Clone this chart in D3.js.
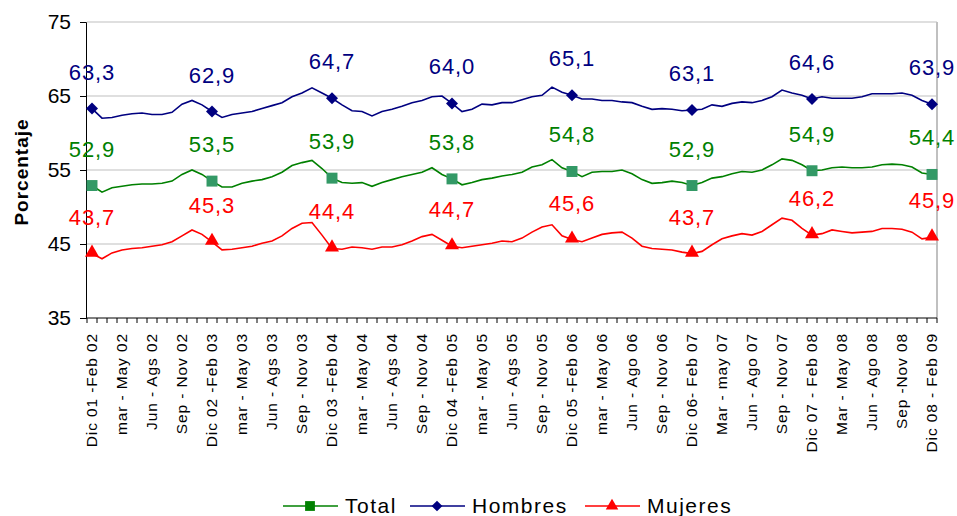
<!DOCTYPE html>
<html>
<head>
<meta charset="utf-8">
<script src="https://cdn.jsdelivr.net/npm/d3@7"></script>
<style>
  body { margin: 0; background: #fff; }
  svg { display: block; font-family: "Liberation Sans", Arial, sans-serif; }
</style>
</head>
<body>
<script>
var tickLabels = ["Dic 01 -Feb 02", "mar - May 02", "Jun - Ags 02", "Sep - Nov 02",
  "Dic 02 -Feb 03", "mar - May 03", "Jun - Ags 03", "Sep - Nov 03",
  "Dic 03 -Feb 04", "mar - May 04", "Jun - Ags 04", "Sep - Nov 04",
  "Dic 04 -Feb 05", "mar - May 05", "Jun - Ags 05", "Sep - Nov 05",
  "Dic 05 -Feb 06", "mar - May 06", "Jun - Ago 06", "Sep - Nov 06",
  "Dic 06- Feb 07", "Mar - may 07", "Jun - Ago 07", "Sep - Nov 07",
  "Dic 07 - Feb 08", "Mar - May 08", "Jun - Ago 08", "Sep -Nov 08",
  "Dic 08 - Feb 09"]

// rolling quarters, one point per month
var total = [52.9, 52.0, 52.6, 52.8, 53.0, 53.1, 53.1, 53.2, 53.5, 54.4, 55.0, 54.4,
  53.5, 52.7, 52.7, 53.2, 53.5, 53.7, 54.1, 54.7, 55.6, 56.0, 56.3, 55.2,
  53.9, 53.3, 53.2, 53.3, 52.8, 53.3, 53.7, 54.1, 54.4, 54.7, 55.3, 54.4,
  53.8, 53.0, 53.3, 53.7, 53.9, 54.2, 54.4, 54.7, 55.4, 55.7, 56.4, 55.3,
  54.8, 54.1, 54.7, 54.8, 54.8, 55.0, 54.5, 53.7, 53.2, 53.3, 53.5, 53.3,
  52.9, 53.3, 53.9, 54.1, 54.5, 54.8, 54.7, 55.0, 55.7, 56.5, 56.3, 55.7,
  54.9, 55.0, 55.3, 55.4, 55.3, 55.3, 55.4, 55.7, 55.8, 55.7, 55.4, 54.6,
  54.4]
var hombres = [63.3, 62.0, 62.1, 62.4, 62.6, 62.7, 62.5, 62.5, 62.8, 63.9, 64.4, 63.8,
  62.9, 62.1, 62.5, 62.7, 62.9, 63.3, 63.7, 64.1, 64.9, 65.4, 66.1, 65.4,
  64.7, 63.8, 63.0, 62.9, 62.3, 62.9, 63.2, 63.6, 64.1, 64.4, 64.9, 65.0,
  64.0, 62.9, 63.2, 63.9, 63.8, 64.1, 64.1, 64.5, 64.9, 65.1, 66.2, 65.5,
  65.1, 64.6, 64.6, 64.4, 64.4, 64.2, 64.1, 63.6, 63.2, 63.3, 63.2, 63.0,
  63.1, 63.2, 63.8, 63.6, 64.0, 64.2, 64.1, 64.4, 64.9, 65.8, 65.4, 65.1,
  64.6, 64.9, 64.7, 64.7, 64.7, 64.9, 65.3, 65.3, 65.3, 65.4, 65.1, 64.4,
  63.9]
var mujeres = [43.7, 43.0, 43.8, 44.2, 44.4, 44.5, 44.7, 44.9, 45.3, 46.1, 46.9, 46.3,
  45.3, 44.2, 44.3, 44.5, 44.7, 45.1, 45.4, 46.1, 47.1, 47.8, 47.9, 46.2,
  44.4, 44.3, 44.6, 44.5, 44.3, 44.6, 44.6, 44.9, 45.4, 46.0, 46.3, 45.5,
  44.7, 44.5, 44.7, 44.9, 45.1, 45.4, 45.3, 45.8, 46.6, 47.3, 47.6, 46.1,
  45.6, 45.3, 45.8, 46.3, 46.5, 46.6, 45.8, 44.7, 44.4, 44.3, 44.2, 43.9,
  43.7, 44.0, 44.9, 45.7, 46.1, 46.4, 46.2, 46.7, 47.6, 48.5, 48.2, 47.1,
  46.2, 46.4, 46.9, 46.7, 46.5, 46.6, 46.7, 47.1, 47.1, 47.0, 46.6, 45.7,
  45.9]
var yTicks = [35, 45, 55, 65, 75]

var series = [
  {name: "Total", values: total, line: "#008000", mark: "#339966", symbol: d3.symbolSquare, size: 120, rot: 0},
  {name: "Hombres", values: hombres, line: "#000080", mark: "#000080", symbol: d3.symbolSquare, size: 72, rot: 45},
  {name: "Mujeres", values: mujeres, line: "#ff0000", mark: "#ff0000", symbol: d3.symbolTriangle, size: 85, rot: 0}
]

var width = 957, height = 516
var margin = {top: 22, right: 20, bottom: 198, left: 87}

var svg = d3.select("body").append("svg")
    .attr("width", width)
    .attr("height", height)

var n = total.length
var x = d3.scalePoint()
    .domain(d3.range(n))
    .range([margin.left, width - margin.right])
    .padding(0.5)

var y = d3.scaleLinear()
    .domain([35, 75])
    .range([height - margin.bottom, margin.top])

var x0 = margin.left, x1 = width - margin.right
var step = x.step()

// grid
svg.append("g").selectAll("line")
    .data(yTicks.slice(1))
    .enter().append("line")
    .attr("x1", x0).attr("x2", x1)
    .attr("y1", function(d) { return y(d) }).attr("y2", function(d) { return y(d) })
    .attr("stroke", "#c0c0c0").attr("stroke-width", 1.2)

// right border of plot area
svg.append("line")
    .attr("x1", x1).attr("x2", x1)
    .attr("y1", y(75)).attr("y2", y(35))
    .attr("stroke", "#c0c0c0").attr("stroke-width", 2)

// y axis
var yAxis = svg.append("g")
    .attr("transform", "translate(" + (x0 - 1) + ",0)")
    .call(d3.axisLeft(y).tickValues(yTicks).tickSize(6).tickPadding(9))
yAxis.select(".domain").attr("stroke", "#000")
yAxis.selectAll(".tick line").attr("stroke", "#000")
yAxis.selectAll("text")
    .attr("font-size", 21)
    .attr("font-family", "Liberation Sans, Arial, sans-serif")
    .attr("fill", "#000")

// x axis: ticks between categories, labels every third month
var xAxisG = svg.append("g")
xAxisG.append("line")
    .attr("x1", x0 - 1).attr("x2", x1)
    .attr("y1", y(35)).attr("y2", y(35))
    .attr("stroke", "#000")
xAxisG.selectAll(".tk")
    .data(d3.range(n + 1))
    .enter().append("line")
    .attr("class", "tk")
    .attr("x1", function(i) { return x(0) - step / 2 + i * step })
    .attr("x2", function(i) { return x(0) - step / 2 + i * step })
    .attr("y1", y(35)).attr("y2", y(35) + 5)
    .attr("stroke", "#000")
xAxisG.selectAll(".lbl")
    .data(tickLabels)
    .enter().append("text")
    .attr("class", "lbl")
    .attr("transform", function(d, i) { return "translate(" + x(i * 3) + "," + (y(35) + 15) + ") rotate(-90)" })
    .attr("dy", "0.35em")
    .attr("text-anchor", "end")
    .attr("font-size", 15.5)
    .attr("letter-spacing", 0.9)
    .attr("fill", "#000")
    .text(function(d) { return d })

// y label
svg.append("text")
    .attr("transform", "translate(21," + (y(55) + 2) + ") rotate(-90)")
    .attr("text-anchor", "middle")
    .attr("font-size", 19)
    .attr("font-weight", "bold")
    .attr("letter-spacing", 1)
    .attr("dy", "0.35em")
    .text("Porcentaje")

var line = d3.line()
    .x(function(d, i) { return x(i) })
    .y(function(d) { return y(d) })

var fmt = function(v) { return d3.format(".1f")(v).replace(".", ",") }
var marked = d3.range(0, n, 12)

series.forEach(function(s) {
  svg.append("path")
      .datum(s.values)
      .attr("fill", "none")
      .attr("stroke", s.line)
      .attr("stroke-width", 1.6)
      .attr("d", line)

  var sym = d3.symbol().type(s.symbol).size(s.size)
  svg.append("g").selectAll("path")
      .data(marked)
      .enter().append("path")
      .attr("transform", function(i) {
        var dy = s.symbol === d3.symbolTriangle ? -1 : 0
        return "translate(" + x(i) + "," + (y(s.values[i]) + dy) + ") rotate(" + s.rot + ")"
      })
      .attr("d", sym)
      .attr("fill", s.mark)

  svg.append("g").selectAll("text")
      .data(marked)
      .enter().append("text")
      .attr("x", function(i) { return x(i) })
      .attr("y", function(i) { return y(s.values[i]) - 29 })
      .attr("text-anchor", "middle")
      .attr("font-size", 22)
      .attr("letter-spacing", 0.9)
      .attr("fill", s.line)
      .text(function(i) { return fmt(s.values[i]) })
})

// legend
var legendX = [283, 410, 585]
var leg = svg.append("g").selectAll("g")
    .data(series)
    .enter().append("g")
    .attr("transform", function(d, i) { return "translate(" + legendX[i] + ",506)" })
leg.append("line")
    .attr("x1", 0).attr("x2", 55)
    .attr("stroke", function(d) { return d.line })
    .attr("stroke-width", 1.6)
leg.append("path")
    .attr("transform", function(d) { return "translate(27,0) rotate(" + d.rot + ")" })
    .attr("d", function(d) { return d3.symbol().type(d.symbol).size(d.size * 0.8)() })
    .attr("fill", function(d) { return d.line })
leg.append("text")
    .attr("x", 62)
    .attr("dy", "0.35em")
    .attr("font-size", 21)
    .attr("letter-spacing", 1.5)
    .attr("fill", "#000")
    .text(function(d) { return d.name })
</script>
</body>
</html>
